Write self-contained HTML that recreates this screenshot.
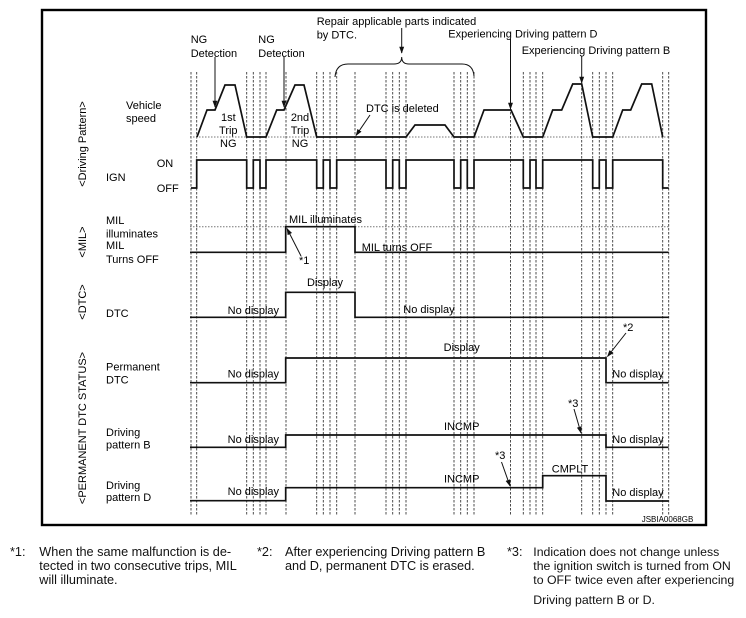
<!DOCTYPE html>
<html><head><meta charset="utf-8"><style>
html,body{margin:0;padding:0;background:#fff;}
svg{display:block;}
text{font-family:"Liberation Sans",Arial,sans-serif;fill:#000;}
.l{font-size:11px;}
.f{font-size:12.7px;fill:#111;}
.f3{font-size:12.3px;fill:#111;}
.sig{fill:none;stroke:#111;stroke-width:1.7;}
.dv{stroke:#3a3a3a;stroke-width:0.9;stroke-dasharray:2.5,1.5;}
.dh{stroke:#777;stroke-width:1;stroke-dasharray:1.5,1.5;fill:none;}
.ar{stroke:#111;stroke-width:1;fill:none;}
</style></head><body>
<svg width="746" height="618" viewBox="0 0 746 618" xmlns="http://www.w3.org/2000/svg">
<defs>
<marker id="ah" viewBox="0 0 10 10" refX="9" refY="5" markerWidth="7" markerHeight="7" orient="auto" markerUnits="userSpaceOnUse">
<path d="M0,1.5 L10,5 L0,8.5 z" fill="#111"/>
</marker>
</defs>
<rect x="42" y="10" width="664" height="515" fill="none" stroke="#000" stroke-width="2.4"/>

<g class="dv">
<line x1="191" y1="72" x2="191" y2="515"/>
<line x1="196.7" y1="72" x2="196.7" y2="515"/>
<line x1="246.7" y1="72" x2="246.7" y2="515"/>
<line x1="253.3" y1="72" x2="253.3" y2="515"/>
<line x1="260" y1="72" x2="260" y2="515"/>
<line x1="266" y1="72" x2="266" y2="515"/>
<line x1="286" y1="72" x2="286" y2="515"/>
<line x1="316.7" y1="72" x2="316.7" y2="515"/>
<line x1="323.3" y1="72" x2="323.3" y2="515"/>
<line x1="330" y1="72" x2="330" y2="515"/>
<line x1="336.7" y1="72" x2="336.7" y2="515"/>
<line x1="355" y1="72" x2="355" y2="515"/>
<line x1="386" y1="72" x2="386" y2="515"/>
<line x1="392.7" y1="72" x2="392.7" y2="515"/>
<line x1="399.3" y1="72" x2="399.3" y2="515"/>
<line x1="406" y1="72" x2="406" y2="515"/>
<line x1="454" y1="72" x2="454" y2="515"/>
<line x1="460.7" y1="72" x2="460.7" y2="515"/>
<line x1="467.3" y1="72" x2="467.3" y2="515"/>
<line x1="474" y1="72" x2="474" y2="515"/>
<line x1="510.5" y1="108" x2="510.5" y2="515"/>
<line x1="523.3" y1="72" x2="523.3" y2="515"/>
<line x1="530" y1="72" x2="530" y2="515"/>
<line x1="536" y1="72" x2="536" y2="515"/>
<line x1="542.7" y1="72" x2="542.7" y2="515"/>
<line x1="581.7" y1="84" x2="581.7" y2="515"/>
<line x1="592.7" y1="72" x2="592.7" y2="515"/>
<line x1="599.3" y1="72" x2="599.3" y2="515"/>
<line x1="606" y1="72" x2="606" y2="515"/>
<line x1="612.7" y1="72" x2="612.7" y2="515"/>
<line x1="662.7" y1="72" x2="662.7" y2="515"/>
<line x1="668.7" y1="72" x2="668.7" y2="515"/>
</g>

<line class="dh" x1="190" y1="137" x2="669" y2="137"/>
<line class="dh" x1="190" y1="226.7" x2="669" y2="226.7"/>

<path class="sig" d="M197,137 L207,110 H215 L225,85 H235 L246.7,137 H266 L276.7,110 H284 L295,85 H304 L316.7,137 H406 L415,125 H445 L454,137 H474 L484,110 H511 L523.3,137 H542.7 L552.7,110 H561.7 L572.7,84 H581.7 L592.7,137 H612.7 L622.7,110 H630.7 L641.7,84 H651.7 L662.7,137"/>

<path class="sig" d="M191,188 H196.7 V160 H246.7 V188 H253.3 V160 H260 V188 H266 V160 H316.7 V188 H323.3 V160 H330 V188 H336.7 V160 H386 V188 H392.7 V160 H399.3 V188 H406 V160 H454 V188 H460.7 V160 H467.3 V188 H474 V160 H523.3 V188 H530 V160 H536 V188 H542.7 V160 H592.7 V188 H599.3 V160 H606 V188 H612.7 V160 H662.7 V188 H668.7"/>

<path class="sig" d="M190,252.3 H285.7 V226.7 H355 V252.3 H668.5"/>
<path class="sig" d="M190,317.3 H285.7 V292.3 H355 V317.3 H668.5"/>
<path class="sig" d="M190,382.7 H285.7 V358 H606 V382.7 H668.5"/>
<path class="sig" d="M190,447.3 H285.7 V435 H606 V447.3 H668.5"/>
<path class="sig" d="M190,500.7 H285.7 V487.7 H542.7 V475.7 H606 V501 H668.5"/>

<path class="ar" d="M335,77 Q336,64 348,64 H394 Q401.7,64 401.7,57 Q401.7,64 409,64 H462 Q473,64 474,76"/>

<line class="ar" x1="215" y1="57" x2="215" y2="107" marker-end="url(#ah)"/>
<line class="ar" x1="284" y1="57" x2="284" y2="107" marker-end="url(#ah)"/>
<line class="ar" x1="401.7" y1="28" x2="401.7" y2="53" marker-end="url(#ah)"/>
<line class="ar" x1="510.5" y1="39" x2="510.5" y2="109" marker-end="url(#ah)"/>
<line class="ar" x1="581.7" y1="56" x2="581.7" y2="83" marker-end="url(#ah)"/>
<line class="ar" x1="370" y1="115" x2="356" y2="135.5" marker-end="url(#ah)"/>
<line class="ar" x1="301" y1="256" x2="287" y2="228.5" marker-end="url(#ah)"/>
<line class="ar" x1="626" y1="333" x2="607.5" y2="356.5" marker-end="url(#ah)"/>
<line class="ar" x1="574" y1="409" x2="581" y2="433" marker-end="url(#ah)"/>
<line class="ar" x1="501.5" y1="462" x2="510" y2="486" marker-end="url(#ah)"/>

<text class="l" text-anchor="middle" transform="translate(86,144) rotate(-90)">&lt;Driving Pattern&gt;</text>
<text class="l" text-anchor="middle" transform="translate(86,242) rotate(-90)">&lt;MIL&gt;</text>
<text class="l" text-anchor="middle" transform="translate(86,302) rotate(-90)">&lt;DTC&gt;</text>
<text class="l" text-anchor="middle" transform="translate(86,428) rotate(-90)">&lt;PERMANENT DTC STATUS&gt;</text>

<text class="l" x="126" y="109">Vehicle</text>
<text class="l" x="126" y="122">speed</text>
<text class="l" x="156.7" y="167">ON</text>
<text class="l" x="106" y="181">IGN</text>
<text class="l" x="156.7" y="192">OFF</text>
<text class="l" x="106" y="224">MIL</text>
<text class="l" x="106" y="237.5">illuminates</text>
<text class="l" x="106" y="249">MIL</text>
<text class="l" x="106" y="263">Turns OFF</text>
<text class="l" x="106" y="317">DTC</text>
<text class="l" x="106" y="370.5">Permanent</text>
<text class="l" x="106" y="383.5">DTC</text>
<text class="l" x="106" y="436">Driving</text>
<text class="l" x="106" y="448.5">pattern B</text>
<text class="l" x="106" y="489">Driving</text>
<text class="l" x="106" y="501">pattern D</text>

<text class="l" x="190.7" y="43">NG</text>
<text class="l" x="190.7" y="57">Detection</text>
<text class="l" x="258.3" y="43">NG</text>
<text class="l" x="258.3" y="57">Detection</text>
<text class="l" x="316.7" y="25">Repair applicable parts indicated</text>
<text class="l" x="316.7" y="38.5">by DTC.</text>
<text class="l" x="448.3" y="37.5">Experiencing Driving pattern D</text>
<text class="l" x="521.7" y="54">Experiencing Driving pattern B</text>

<text class="l" text-anchor="middle" x="228.3" y="121">1st</text>
<text class="l" text-anchor="middle" x="228.3" y="134">Trip</text>
<text class="l" text-anchor="middle" x="228.3" y="147">NG</text>
<text class="l" text-anchor="middle" x="300" y="121">2nd</text>
<text class="l" text-anchor="middle" x="300" y="134">Trip</text>
<text class="l" text-anchor="middle" x="300" y="147">NG</text>
<text class="l" x="366" y="112">DTC is deleted</text>

<text class="l" x="289" y="223">MIL illuminates</text>
<text class="l" x="299" y="264">*1</text>
<text class="l" x="361.7" y="251">MIL turns OFF</text>

<text class="l" text-anchor="middle" x="325" y="286">Display</text>
<text class="l" text-anchor="end" x="279" y="314">No display</text>
<text class="l" x="403.3" y="313">No display</text>

<text class="l" text-anchor="end" x="279" y="377.5">No display</text>
<text class="l" text-anchor="middle" x="461.7" y="351">Display</text>
<text class="l" x="623" y="331">*2</text>
<text class="l" x="612.3" y="377.5">No display</text>

<text class="l" text-anchor="end" x="279" y="443">No display</text>
<text class="l" text-anchor="middle" x="461.7" y="430">INCMP</text>
<text class="l" x="568" y="407">*3</text>
<text class="l" x="612.3" y="443">No display</text>

<text class="l" text-anchor="end" x="279" y="495">No display</text>
<text class="l" text-anchor="middle" x="461.7" y="482.5">INCMP</text>
<text class="l" text-anchor="middle" x="570" y="472.5">CMPLT</text>
<text class="l" x="495" y="459">*3</text>
<text class="l" x="612.3" y="496">No display</text>

<text x="641.7" y="522" style="font-size:8px">JSBIA0068GB</text>

<text class="f" x="10" y="556">*1:</text>
<text class="f" x="39.3" y="556">When the same malfunction is de-</text>
<text class="f" x="39.3" y="570">tected in two consecutive trips, MIL</text>
<text class="f" x="39.3" y="584">will illuminate.</text>

<text class="f" x="257" y="556">*2:</text>
<text class="f" x="285" y="556">After experiencing Driving pattern B</text>
<text class="f" x="285" y="570">and D, permanent DTC is erased.</text>

<text class="f" x="507" y="556">*3:</text>
<text class="f3" x="533.3" y="556">Indication does not change unless</text>
<text class="f3" x="533.3" y="570">the ignition switch is turned from ON</text>
<text class="f3" x="533.3" y="584">to OFF twice even after experiencing</text>
<text class="f3" x="533.3" y="604">Driving pattern B or D.</text>
</svg>
</body></html>
